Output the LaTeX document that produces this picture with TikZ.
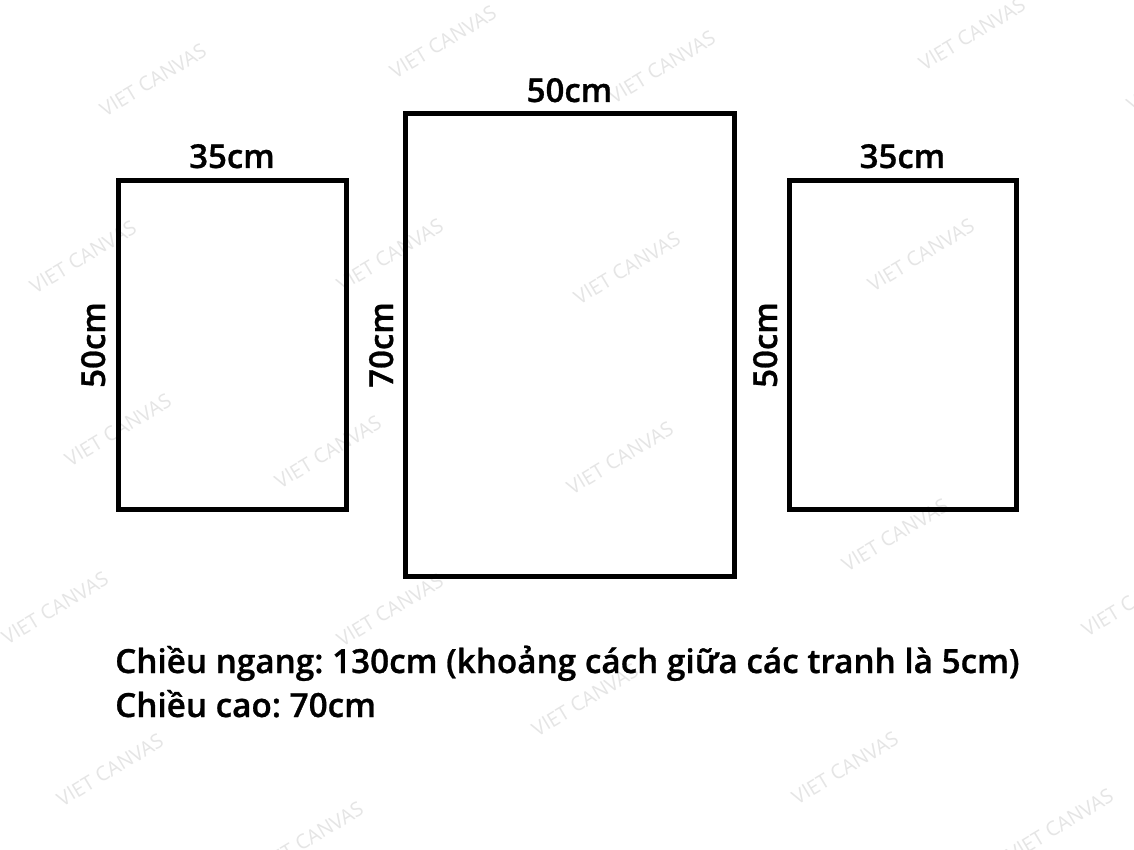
\documentclass[tikz,border=0pt]{standalone}
\usepackage{fontspec}
\IfFontExistsTF{Open Sans SemiBold}{\setmainfont{Open Sans SemiBold}[FakeBold=0.8]}{\IfFontExistsTF{Open Sans Semibold}{\setmainfont{Open Sans Semibold}[FakeBold=0.8]}{\setmainfont{Open Sans}[FakeBold=2]}}
\newfontfamily\wmfont{Open Sans}
\frenchspacing
\begin{document}
\begin{tikzpicture}[x=1pt,y=-1pt,
  frame/.style={draw=black, line width=5pt, inner sep=0pt, outer sep=0pt, fill=none},
  dim/.style={font=\fontsize{33}{38}\selectfont, inner sep=0pt, text=black},
  note/.style={font=\fontsize{33.3}{38}\selectfont, inner sep=0pt, text=black},
  wm/.style={font=\wmfont\fontsize{20}{20}\selectfont, text=black!10, rotate=31, inner sep=0pt}]
\useasboundingbox (0,0) rectangle (1134,850);
\fill[white] (0,0) rectangle (1134,850);
\clip (0,0) rectangle (1134,850);
% watermarks
\foreach \wx/\wy [count=\i] in {153/80,443/42,662/67,972/34,1180/75,
  83/257,390/255,627/268,921/255,
  118/430,328/452,620/458,
  895/535,55/608,390/610,1135/600,585/700,
  110/770,845/768,310/838,1060/825}
  {\node[wm] (wm\i) at (\wx,\wy) {VIET CANVAS};}
% frames
\node[frame, minimum width=228pt, minimum height=328pt] (L) at (232,345) {};
\node[frame, minimum width=329pt, minimum height=462pt] (M) at (569.5,345) {};
\node[frame, minimum width=227pt, minimum height=328pt] (R) at (902.5,345) {};
% top dimensions
\node[dim, anchor=base] (Lw) at ([yshift=13pt]L.north) {35cm};
\node[dim, anchor=base] (Mw) at ([yshift=12pt]M.north) {50cm};
\node[dim, anchor=base] (Rw) at ([yshift=13pt]R.north) {35cm};
% side dimensions
\node[dim, rotate=90, anchor=base] (Lh) at ([xshift=-13pt]L.west) {50cm};
\node[dim, rotate=90, anchor=base] (Mh) at ([xshift=-12pt]M.west) {70cm};
\node[dim, rotate=90, anchor=base] (Rh) at ([xshift=-12pt]R.west) {50cm};
% notes
\node[note, anchor=base west] (t1) at (115,673) {Chiều ngang: 130cm (khoảng cách giữa các tranh là 5cm)};
\node[note, anchor=base west] (t2) at (115,717) {Chiều cao: 70cm};
\end{tikzpicture}
\end{document}
